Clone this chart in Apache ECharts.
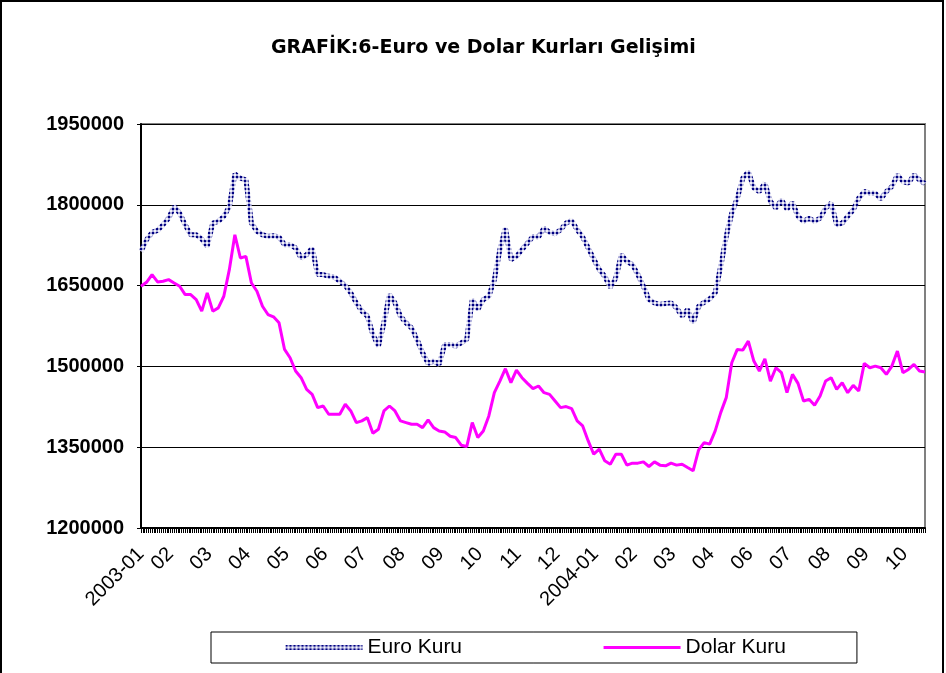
<!DOCTYPE html>
<html>
<head>
<meta charset="utf-8">
<title>GRAFİK:6-Euro ve Dolar Kurları Gelişimi</title>
<script src="https://cdn.jsdelivr.net/npm/echarts@6/dist/echarts.min.js"></script>
<style>
  html, body { margin: 0; padding: 0; background: #fff; }
  #chart { width: 946px; height: 673px; }
</style>
</head>
<body>
<div id="chart"></div>
<script>
// eksen etiketleri: yaklasik her 21 is gununde bir
var monthLabels = ['2003-01', '02', '03', '04', '05', '06', '07', '08', '09', '10', '11', '12',
  '2004-01', '02', '03', '04', '06', '07', '08', '09', '10'];
var dayCount = 427;   // orijinal grafikteki gun sayisi (eksen cizgileri icin)
var labelStep = 21;
var labelShift = 5;   // ilk etiketten sonrakiler biraz geride

// kurlar (TL), yaklasik 3 is gununde bir okunmus degerler
var euroKuru = [
  1713600, 1735200, 1748800, 1752500, 1763000, 1775300, 1796900, 1784600, 1763000, 1744400, 1744400, 1736400,
  1722800, 1766000, 1769100, 1778400, 1796900, 1857400, 1849400, 1846300, 1766000, 1750600, 1744400, 1741400,
  1742600, 1740100, 1725900, 1725900, 1719800, 1701200, 1707400, 1719800, 1670400, 1670400, 1667300, 1666000,
  1658000, 1650000, 1636400, 1617900, 1602500, 1593200, 1559300, 1537700, 1580900, 1633300, 1617900, 1593200,
  1580900, 1571600, 1550000, 1525300, 1505600, 1509900, 1503700, 1540700, 1540700, 1537700, 1543800, 1550000,
  1624100, 1605600, 1624100, 1630200, 1661100, 1716700, 1756800, 1698100, 1704300, 1716700, 1729000,
  1741400, 1740100, 1756800, 1748800, 1746300, 1753700, 1766000, 1771000, 1753700, 1740100, 1719800, 1699400,
  1679600, 1667300, 1646900, 1664200, 1707400, 1695100, 1688900, 1670400, 1648800, 1624100, 1617900, 1614800,
  1616700, 1617900, 1608600, 1593200, 1605600, 1580900, 1611700, 1619100, 1625300, 1636400, 1685800, 1741400,
  1784600, 1812300, 1849400, 1861700, 1830900, 1824700, 1840100, 1806200, 1793800, 1809300, 1792000,
  1804300, 1778400, 1769100, 1775300, 1769100, 1775300, 1793800, 1803100, 1763000, 1766000, 1778400, 1790700,
  1812300, 1824700, 1821600, 1821600, 1810500, 1824700, 1834000, 1855600, 1843200, 1840100, 1855600, 1846300, 1838900
];
var dolarKuru = [
  1648800, 1656200, 1670400, 1656800, 1658000, 1661100, 1654900, 1648800, 1633300, 1633300, 1624100, 1602500,
  1636400, 1602500, 1608600, 1630200, 1679600, 1744400, 1701200, 1704300, 1654900, 1639500, 1611700, 1596300,
  1592000, 1580900, 1531500, 1516000, 1491400, 1479000, 1457400, 1448100, 1423500, 1426500, 1411100, 1411100,
  1411100, 1429600, 1417300, 1395700, 1398800, 1404900, 1375900, 1383300, 1417300, 1426500, 1417300, 1398800,
  1395700, 1392600, 1392600, 1386400, 1400600, 1386400, 1380200, 1378400, 1370400, 1367900, 1353700, 1351200,
  1395700, 1367900, 1380200, 1408000, 1451200, 1472800, 1495700, 1469800, 1493200, 1479000, 1468500,
  1458600, 1463600, 1451200, 1448100, 1435800, 1423500, 1425400, 1421700, 1398800, 1389500, 1361700, 1337000,
  1346300, 1324700, 1318500, 1337000, 1337000, 1316700, 1320400, 1320400, 1322800, 1314200, 1322800, 1316700,
  1315400, 1320400, 1316700, 1318500, 1312300, 1306200, 1345100, 1358600, 1355600, 1380200, 1414200, 1442000,
  1506800, 1531500, 1530200, 1546900, 1509900, 1491400, 1514200, 1472800, 1497500, 1488300, 1451200,
  1485200, 1468500, 1435800, 1438900, 1427800, 1445100, 1472800, 1479000, 1457400, 1469800, 1451200, 1464800,
  1454300, 1505600, 1497500, 1500600, 1497500, 1485200, 1500600, 1528400, 1488300, 1494400, 1503700, 1491400, 1489500
];

var sampleCats = euroKuru.map(function (v, i) { return String(i); });
var dayCats = [];
for (var d = 0; d < dayCount; d++) dayCats.push('');
monthLabels.forEach(function (lbl, k) {
  dayCats[k === 0 ? 0 : k * labelStep - labelShift] = lbl;
});

// Excel'deki desenli cizgiye benzesin diye kucuk bir desen
var pat = document.createElement('canvas');
pat.width = 4; pat.height = 4;
var pctx = pat.getContext('2d');
pctx.fillStyle = '#a8a8d8'; pctx.fillRect(0, 0, 4, 4);
pctx.fillStyle = '#000080'; pctx.fillRect(0, 0, 2, 2);
pctx.fillStyle = '#f2f2fa'; pctx.fillRect(2, 2, 2, 2);
var euroLine = { width: 5, color: { image: pat, repeat: 'repeat' } };

var chart = echarts.init(document.getElementById('chart'));
var font = '"Liberation Sans", Arial, sans-serif';

var option = {
  animation: false,
  backgroundColor: '#fff',
  graphic: [{
    type: 'rect',
    silent: true,
    shape: { x: 1, y: 1, width: 942, height: 720 },
    style: { fill: 'none', stroke: '#000', lineWidth: 2 }
  }],
  title: {
    text: 'GRAFİK:6-Euro ve Dolar Kurları Gelişimi',
    left: 266,
    top: 34,
    textStyle: { fontFamily: '"DejaVu Sans", Verdana, sans-serif', fontWeight: 'bold', fontSize: 19, color: '#000' }
  },
  legend: {
    data: [
      { name: 'Euro Kuru', lineStyle: { width: 5 } },
      { name: 'Dolar Kuru', lineStyle: { width: 3 } }
    ],
    left: 211,
    top: 632,
    padding: [5, 71, 5, 72],
    itemGap: 140,
    itemWidth: 77,
    itemHeight: 14,
    itemStyle: { opacity: 0 },
    borderColor: '#000',
    borderWidth: 1,
    textStyle: { fontFamily: font, fontSize: 21, color: '#000' }
  },
  grid: {
    left: 141, right: 21, top: 124, bottom: 145,
    show: true,
    borderColor: '#808080',
    borderWidth: 2
  },
  xAxis: [{
    type: 'category',
    data: sampleCats,
    boundaryGap: false,
    show: false
  }, {
    type: 'category',
    data: dayCats,
    boundaryGap: false,
    position: 'bottom',
    axisLine: { lineStyle: { color: '#000', width: 2 } },
    axisTick: { interval: 0, length: 5, lineStyle: { color: '#000', width: 1 } },
    axisLabel: {
      interval: 0,
      rotate: 45,
      margin: 23,
      fontFamily: font,
      fontSize: 20,
      color: '#000'
    },
    splitLine: { show: false }
  }],
  yAxis: {
    type: 'value',
    min: 1200000,
    max: 1950000,
    interval: 150000,
    axisLine: { show: true, lineStyle: { color: '#000', width: 2 } },
    axisTick: { show: true, length: 4, lineStyle: { color: '#000' } },
    axisLabel: {
      formatter: function (v) { return String(v); },
      fontFamily: font, fontWeight: 'bold', fontSize: 20, color: '#000', margin: 17
    },
    splitLine: { lineStyle: { color: '#000', width: 1 } }
  },
  series: [{
    name: 'Euro Kuru',
    type: 'line',
    xAxisIndex: 0,
    data: euroKuru,
    symbol: 'none',
    itemStyle: { color: '#000080' },
    lineStyle: euroLine
  }, {
    name: 'Dolar Kuru',
    type: 'line',
    xAxisIndex: 0,
    data: dolarKuru,
    symbol: 'none',
    itemStyle: { color: '#ff00ff' },
    lineStyle: { width: 3, color: '#ff00ff' }
  }]
};

chart.setOption(option);
</script>
</body>
</html>
